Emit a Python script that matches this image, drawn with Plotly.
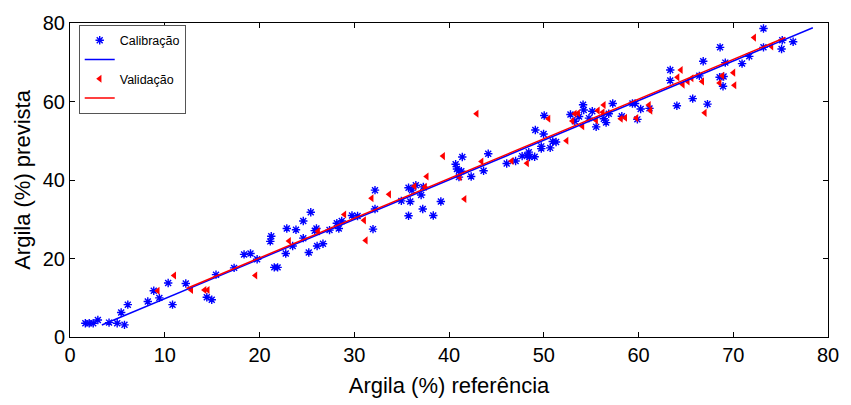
import plotly.graph_objects as go

# Calibration (blue) points: reference x, predicted y
cal_x = [1.62, 2.03, 2.45, 2.94, 4.12, 4.98, 5.75, 5.40, 6.10, 8.21, 8.84, 9.43, 10.36, 10.82, 12.22,
         14.44, 14.96, 15.41, 17.32, 18.37, 19.05, 19.75, 21.14, 21.24, 21.56, 21.91, 22.77, 22.88,
         23.50, 23.85, 24.62, 24.62, 25.20, 25.41, 25.83, 26.01, 26.08, 26.70, 27.39, 28.16, 28.37,
         28.68, 29.76, 30.35, 31.98, 32.19, 32.19, 34.97, 35.73, 35.91, 35.73, 36.09, 36.50, 37.06,
         37.29, 37.23, 38.34, 39.14, 40.70, 40.84, 41.05, 41.30, 41.40, 41.05, 42.34, 43.65, 44.14,
         46.09, 47.03, 47.72, 48.24, 48.42, 48.49, 49.04, 49.11, 49.74, 49.74, 49.98, 50.05, 50.68,
         50.95, 51.30, 52.82, 53.28, 53.73, 54.15, 54.22, 54.77, 55.12, 55.53, 56.34, 56.58, 56.86,
         57.28, 58.24, 59.36, 59.64, 60.23, 61.16, 59.88, 63.35, 63.35, 64.05, 65.72, 66.42, 66.83,
         67.28, 68.56, 68.98, 68.92, 68.61, 69.16, 70.93, 71.69, 73.19, 73.19, 75.17, 75.10, 76.32]
cal_y = [3.52, 3.52, 3.52, 4.34, 3.67, 3.52, 3.10, 6.25, 8.24, 9.05, 11.78, 9.97, 13.77, 8.24, 13.64,
         10.12, 9.48, 15.88, 17.61, 21.04, 21.29, 19.80, 24.36, 25.68, 17.74, 17.74, 21.29, 27.66,
         23.20, 27.34, 29.57, 25.18, 21.53, 31.80, 27.09, 27.66, 23.20, 23.77, 27.24, 28.98, 27.66,
         29.57, 30.96, 30.81, 27.49, 37.41, 32.62, 34.68, 38.01, 34.53, 30.88, 37.41, 38.65, 36.17,
         38.25, 32.62, 30.96, 34.53, 44.03, 42.79, 42.37, 42.22, 45.85, 40.73, 40.88, 42.37, 46.69,
         44.21, 44.85, 46.09, 46.27, 47.09, 45.85, 45.94, 52.72, 48.57, 48.00, 51.73, 56.44, 48.18,
         49.81, 49.67, 56.69, 54.95, 56.19, 59.17, 57.85, 55.77, 57.51, 53.54, 55.62, 54.63, 56.86,
         59.49, 56.26, 59.49, 59.49, 58.10, 58.25, 55.45, 68.02, 65.37, 58.92, 60.73, 66.54, 70.26,
         59.34, 66.19, 66.36, 63.88, 73.80, 69.91, 69.66, 71.50, 78.59, 73.80, 75.61, 73.38, 75.22]

# Validation (red) points
val_x = [9.26, 11.00, 12.80, 14.20, 14.54, 19.57, 23.12, 26.18, 28.96, 31.04, 31.22, 31.84, 33.69,
         36.36, 37.47, 37.65, 39.38, 41.12, 41.64, 42.92, 43.44, 46.61, 48.24, 50.50, 52.41, 53.28,
         53.63, 53.03, 54.08, 55.71, 56.34, 56.23, 55.53, 58.14, 58.60, 59.78, 61.10, 61.27, 64.12,
         64.47, 65.61, 65.20, 64.68, 66.73, 68.85, 68.56, 70.02, 70.13, 67.00, 72.21, 74.03]
val_y = [11.78, 15.68, 11.96, 11.96, 11.96, 15.68, 24.44, 26.92, 31.21, 29.72, 24.61, 35.35, 36.34,
         38.40, 38.25, 40.88, 46.09, 40.73, 35.18, 56.86, 44.70, 44.85, 44.28, 55.62, 49.99, 56.86,
         57.01, 55.02, 53.71, 57.68, 59.09, 57.26, 55.20, 55.62, 55.87, 55.77, 59.09, 57.68, 66.19,
         68.02, 65.94, 65.12, 64.30, 65.12, 66.54, 64.70, 67.35, 64.13, 57.11, 76.28, 74.05]

# Fitted regression lines (end points)
cal_fit_x = [3.36, 78.4]
cal_fit_y = [3.06, 78.8]
val_fit_x = [12.3, 75.5]
val_fit_y = [12.35, 76.3]

x_ticks = [0, 10, 20, 30, 40, 50, 60, 70, 80]
y_ticks = [0, 20, 40, 60, 80]

FONT = "Liberation Sans, Arial, sans-serif"

fig = go.Figure()
fig.add_trace(go.Scatter(x=cal_x, y=cal_y, mode="markers", name="Calibração",
                         marker=dict(symbol="asterisk-open", size=7, color="#0000ff",
                                     line=dict(width=1.4, color="#0000ff")),
                         legendrank=1))
fig.add_trace(go.Scatter(x=val_x, y=val_y, mode="markers", name="Validação",
                         marker=dict(symbol="triangle-left", size=7, color="#ff0000",
                                     line=dict(width=0)),
                         legendrank=3))
fig.add_trace(go.Scatter(x=cal_fit_x, y=cal_fit_y, mode="lines", name=" ",
                         line=dict(color="#0000ff", width=1.5), legendrank=2))
fig.add_trace(go.Scatter(x=val_fit_x, y=val_fit_y, mode="lines", name="  ",
                         line=dict(color="#ff0000", width=1.5), legendrank=4))

axis_common = dict(showgrid=False, zeroline=False, showline=True, linecolor="black", linewidth=1,
                   mirror="ticks", ticks="inside", ticklen=5, tickcolor="black", tickwidth=1,
                   tickfont=dict(family=FONT, size=20, color="black"))

fig.update_layout(
    width=851, height=405,
    margin=dict(l=70, r=13, t=15, b=68),
    paper_bgcolor="white", plot_bgcolor="white",
    showlegend=True,
    legend=dict(x=0.0115, y=0.995, xanchor="left", yanchor="top",
                bgcolor="white", bordercolor="#555555", borderwidth=1,
                font=dict(family=FONT, size=12.5, color="black"),
                itemwidth=30, tracegroupgap=0, traceorder="normal"),
    xaxis=dict(range=[0, 80], tickvals=x_ticks,
               title=dict(text="Argila (%) referência", font=dict(family=FONT, size=22, color="black"),
                          standoff=12),
               **axis_common),
    yaxis=dict(range=[0, 80], tickvals=y_ticks,
               title=dict(text="Argila (%) prevista", font=dict(family=FONT, size=22, color="black"),
                          standoff=6),
               **axis_common),
)

fig.write_html("out.html")
